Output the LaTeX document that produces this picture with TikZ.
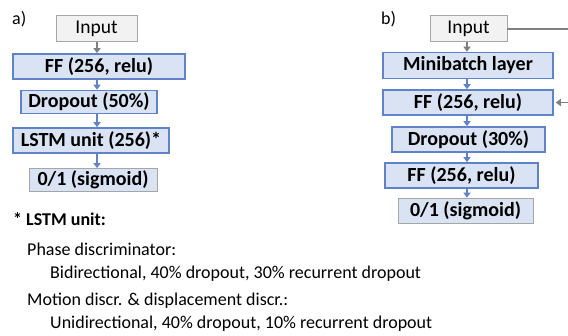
\documentclass[tikz,border=0pt]{standalone}
\usepackage{fontspec}
\setmainfont{Carlito}
\usetikzlibrary{arrows.meta}
\definecolor{boxfill}{HTML}{DAE3F3}
\definecolor{boxline}{HTML}{6083C8}
\definecolor{infill}{HTML}{F2F2F2}
\definecolor{inline}{HTML}{A6A6A6}
\definecolor{arrgray}{HTML}{7F7F7F}
\tikzset{
  layer/.style={draw=boxline, line width=1.6pt, fill=boxfill, inner sep=0pt, font=\fontsize{20}{22}\selectfont\bfseries},
  inbox/.style={draw=inline, line width=0.8pt, fill=infill, inner sep=0pt, font=\fontsize{19.5}{22}\selectfont},
  outbox/.style={draw=inline, line width=0.8pt, fill=boxfill, inner sep=0pt, font=\fontsize{20}{22}\selectfont\bfseries},
  flow/.style={draw=boxline, line width=1.4pt, -{Triangle[width=7pt,length=5pt]}},
  grayflow/.style={draw=arrgray, line width=1.4pt, -{Triangle[width=7pt,length=5pt]}},
  grayline/.style={draw=arrgray, line width=1.4pt},
  note/.style={anchor=base west, inner sep=0pt, font=\fontsize{18}{20}\selectfont},
}
\begin{document}
\begin{tikzpicture}[x=1pt,y=-1pt]
\useasboundingbox (0,0) rectangle (568,335);
% labels
\node[note] (la) at (12,24) {a)};
\node[note] (lb) at (381,24) {b)};
% a)
\node[inbox, minimum width=81pt, minimum height=26pt] (ain) at (96.5,28.5) {Input};
\node[layer, minimum width=172pt, minimum height=25pt] (aff) at (99,66.5) {FF (256, relu)};
\node[layer, minimum width=136pt, minimum height=23pt] (adr) at (89,102) {Dropout (50\%)};
\node[layer, minimum width=156pt, minimum height=25pt] (alstm) at (91,140.5) {LSTM unit (256)*};
\node[outbox, minimum width=128pt, minimum height=23pt] (aout) at (93,180) {0/1 (sigmoid)};
\coordinate (ax) at (97,0);
\draw[grayflow] (ain.south -| ax) -- (aff.north -| ax);
\draw[flow] (aff.south -| ax) -- (adr.north -| ax);
\draw[flow] (adr.south -| ax) -- (alstm.north -| ax);
\draw[flow] (alstm.south -| ax) -- (aout.north -| ax);
% b)
\node[inbox, minimum width=77pt, minimum height=26pt] (bin) at (468.5,28.5) {Input};
\node[layer, minimum width=170pt, minimum height=26pt] (bmb) at (468,65.5) {Minibatch layer};
\node[layer, minimum width=170pt, minimum height=25pt] (bff) at (468,102.5) {FF (256, relu)};
\node[layer, minimum width=153pt, minimum height=25pt] (bdr) at (468.5,139.5) {Dropout (30\%)};
\node[layer, minimum width=153pt, minimum height=25pt] (bff2) at (461.5,175.5) {FF (256, relu)};
\node[outbox, minimum width=135pt, minimum height=25pt] (bout) at (465.5,210.5) {0/1 (sigmoid)};
\coordinate (bx) at (467,0);
\coordinate (edge1) at (568,29);
\coordinate (edge2) at (568,102.5);
\draw[grayflow] (bin.south -| bx) -- (bmb.north -| bx);
\draw[flow] (bmb.south -| bx) -- (bff.north -| bx);
\draw[flow] (bff.south -| bx) -- (bdr.north -| bx);
\draw[flow] (bdr.south -| bx) -- (bff2.north -| bx);
\draw[flow] (bff2.south -| bx) -- (bout.north -| bx);
\draw[grayline] (bin.east |- edge1) -- (edge1);
\draw[grayflow] (edge2) -- ([xshift=2pt]bff.east |- edge2);
% notes
\node[note, font=\fontsize{18}{20}\selectfont\bfseries] (n0) at (13,225) {* LSTM unit:};
\node[note] (n1) at (27,255) {Phase discriminator:};
\node[note] (n2) at (50,278) {Bidirectional, 40\% dropout, 30\% recurrent dropout};
\node[note] (n3) at (27,305) {Motion discr. \& displacement discr.:};
\node[note] (n4) at (50,328) {Unidirectional, 40\% dropout, 10\% recurrent dropout};
\end{tikzpicture}
\end{document}
